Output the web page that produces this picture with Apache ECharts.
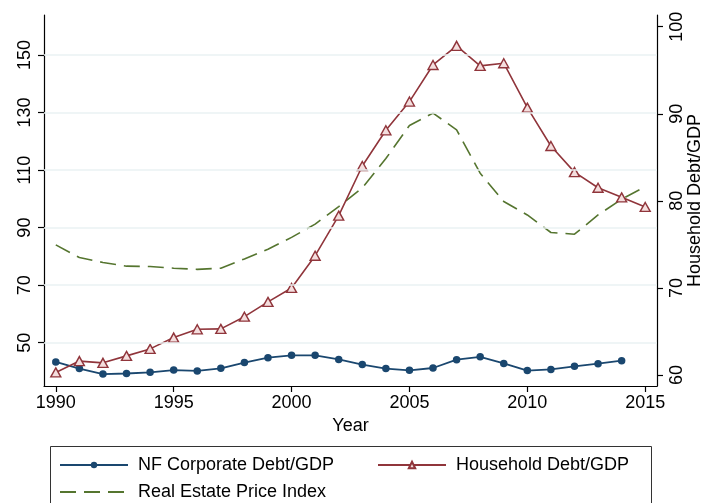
<!DOCTYPE html>
<html>
<head>
<meta charset="utf-8">
<script src="https://cdn.jsdelivr.net/npm/echarts@6/dist/echarts.min.js"></script>
<style>
html,body{margin:0;padding:0;background:#fff;}
#c{width:704px;height:503px;}
</style>
</head>
<body>
<div id="c"></div>
<script>
const years = [1990,1991,1992,1993,1994,1995,1996,1997,1998,1999,2000,2001,2002,2003,2004,2005,2006,2007,2008,2009,2010,2011,2012,2013,2014,2015];
const corpDebt = [43.3,41.0,39.1,39.3,39.7,40.5,40.2,41.1,43.1,44.8,45.6,45.6,44.2,42.4,41.0,40.4,41.2,44.1,45.1,42.8,40.3,40.7,41.8,42.7,43.75,null];
const householdDebt = [60.3,61.6,61.4,62.2,63.0,64.3,65.25,65.3,66.7,68.4,70.0,73.7,78.3,84.0,88.1,91.4,95.6,97.8,95.5,95.8,90.7,86.3,83.3,81.5,80.4,79.3];
const realEstate = [84.0,79.6,77.9,76.6,76.5,75.9,75.5,75.9,79.1,82.5,86.6,91.2,97.3,103.8,114.0,125.5,129.8,124.0,108.9,99.1,94.4,88.3,87.7,94.4,99.9,104.2];
const xTicks = [1990,1995,2000,2005,2010,2015];
const leftTicks = [50,70,90,110,130,150];
const rightTicks = [60,70,80,90,100];
const names = ['NF Corporate Debt/GDP','Household Debt/GDP','Real Estate Price Index'];

const FONT = "'Liberation Sans', Arial, sans-serif";
const pair = arr => years.map((y,i)=>[y,arr[i]]);

const chart = echarts.init(document.getElementById('c'), null, {renderer:'canvas'});
const legendBase = {
  orient:'horizontal', padding:0, itemWidth:68, itemHeight:8, selectedMode:false,
  formatter: n => ' ' + n,
  textStyle:{fontFamily:FONT, fontSize:18, color:'#000'}
};
chart.setOption({
  animation:false,
  backgroundColor:'#fff',
  textStyle:{fontFamily:FONT},
  grid:{left:44, right:47, top:15, bottom:117, containLabel:false, outerBoundsMode:'none'},
  legend:[
    Object.assign({}, legendBase, {data:[names[0]], left:59, top:456}),
    Object.assign({}, legendBase, {data:[names[1]], left:377, top:456}),
    Object.assign({}, legendBase, {data:[names[2]], left:59, top:483,
      itemStyle:{color:'rgba(0,0,0,0)', borderColor:'rgba(0,0,0,0)', borderWidth:0}})
  ],
  graphic:[{type:'rect', shape:{x:50.5, y:446.5, width:601, height:80}, style:{fill:'none', stroke:'#333', lineWidth:1}, silent:true, z:-1}],
  xAxis:{
    type:'value', min:1989.5, max:2015.5,
    name:'Year', nameLocation:'middle', nameGap:30,
    nameTextStyle:{fontFamily:FONT, fontSize:18, color:'#000'},
    axisLine:{show:true, lineStyle:{color:'#000', width:1.2}},
    axisTick:{show:true, length:6, customValues:xTicks, lineStyle:{color:'#000', width:1.2}},
    axisLabel:{customValues:xTicks, fontFamily:FONT, fontSize:18, color:'#000', margin:8, formatter: v => String(v)},
    splitLine:{show:false}
  },
  yAxis:[{
    type:'value', position:'left', min:34.95, max:163.9,
    axisLine:{show:true, lineStyle:{color:'#000', width:1.2}},
    axisTick:{show:true, length:6, customValues:leftTicks, lineStyle:{color:'#000', width:1.2}},
    axisLabel:{customValues:leftTicks, rotate:90, fontFamily:FONT, fontSize:18, color:'#000', margin:10},
    splitLine:{show:false}
  },{
    type:'value', position:'right', min:58.74, max:101.34,
    name:'Household Debt/GDP', nameLocation:'middle', nameGap:29, nameRotate:90, nameMoveOverlap:false,
    nameTextStyle:{fontFamily:FONT, fontSize:18, color:'#000'},
    axisLine:{show:true, lineStyle:{color:'#000', width:1.2}},
    axisTick:{show:true, length:6, customValues:rightTicks, lineStyle:{color:'#000', width:1.2}},
    axisLabel:{customValues:rightTicks, rotate:90, fontFamily:FONT, fontSize:18, color:'#000', margin:11},
    splitLine:{show:false}
  }],
  series:[
    {
      name:'grid', type:'line', data:[], yAxisIndex:0, z:0, silent:true,
      markLine:{silent:true, symbol:['none','none'], label:{show:false},
        lineStyle:{color:'#eaf2f3', width:1.5, type:'solid'},
        data: leftTicks.map(v=>({yAxis:v}))}
    },
    {
      name:names[2], type:'line', yAxisIndex:0, data:pair(realEstate), z:2,
      showSymbol:false, symbol:'none',
      lineStyle:{color:'#55752f', width:1.6, type:[16,8]},
      itemStyle:{color:'#55752f'}
    },
    {
      name:names[0], type:'line', yAxisIndex:0, data:pair(corpDebt), z:3,
      symbol:'circle', symbolSize:7.5,
      lineStyle:{color:'#1a476f', width:1.8},
      itemStyle:{color:'#1a476f'}
    },
    {
      name:names[1], type:'line', yAxisIndex:1, data:pair(householdDebt), z:4,
      symbol:'triangle', symbolSize:[10,9],
      lineStyle:{color:'#90353b', width:1.6},
      itemStyle:{color:'#f4dede', borderColor:'#90353b', borderWidth:1.4}
    }
  ]
});
</script>
</body>
</html>
